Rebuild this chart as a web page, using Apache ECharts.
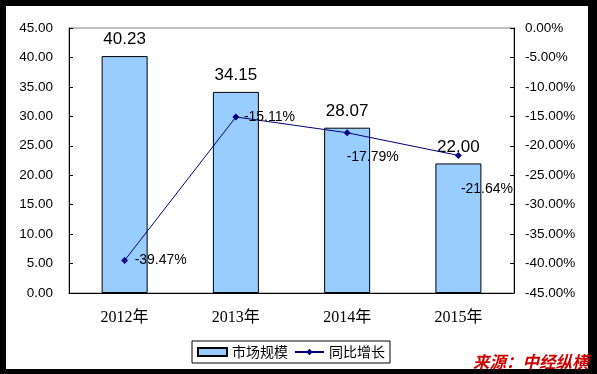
<!DOCTYPE html>
<html>
<head>
<meta charset="utf-8">
<script src="https://cdn.jsdelivr.net/npm/echarts@6/dist/echarts.min.js"></script>
<style>
html,body{margin:0;padding:0;background:#000;}
#chart{width:597px;height:374px;}
</style>
</head>
<body>
<div id="chart"></div>
<script>
const categories = ['2012年', '2013年', '2014年', '2015年'];
const marketSize = [40.23, 34.15, 28.07, 22.00];
const growthRate = [-39.47, -15.11, -17.79, -21.64];
const seriesNames = ['市场规模', '同比增长'];
const sourceText = '来源：中经纵横';

const growthLabelOffsets = [[1.5, 0], [-0.5, 0], [-9, 24], [-6, 34]];

const chart = echarts.init(document.getElementById('chart'), null, {renderer: 'canvas'});
const sans = "'Liberation Sans', Arial, 'Noto Sans CJK SC', sans-serif";
const serif = "'Liberation Serif', 'Noto Sans CJK SC', serif";

chart.setOption({
  backgroundColor: '#000',
  animation: false,
  graphic: [
    {type: 'rect', z: -100, shape: {x: 6, y: 6, width: 582, height: 363}, style: {fill: '#fff'}},
    {type: 'text', z: 100, left: 473, top: 353,
     style: {text: sourceText, fill: '#CC0000', font: 'italic bold 16.5px "Noto Sans CJK SC", sans-serif'}}
  ],
  grid: {left: 69, right: 83, top: 28, bottom: 81, show: true, borderColor: '#808080', borderWidth: 1, backgroundColor: 'transparent', outerBoundsMode: 'none'},
  legend: {
    left: 192, top: 341,
    padding: [4, 5, 4, 5],
    itemGap: 6,
    itemWidth: 29, itemHeight: 8,
    borderColor: '#000', borderWidth: 1, borderRadius: 0,
    backgroundColor: '#fff',
    textStyle: {fontSize: 14, color: '#000', fontFamily: "'Noto Sans CJK SC', sans-serif"},
    data: [{name: seriesNames[0], icon: 'rect'}, {name: seriesNames[1]}]
  },
  xAxis: {
    type: 'category',
    data: categories,
    boundaryGap: true,
    axisLine: {lineStyle: {color: '#000', width: 1}},
    axisTick: {inside: true, length: 4, lineStyle: {color: '#000'}},
    axisLabel: {fontSize: 16, color: '#000', fontFamily: serif, margin: 17}
  },
  yAxis: [
    {
      type: 'value', min: 0, max: 45, interval: 5,
      axisLine: {show: true, lineStyle: {color: '#000', width: 1}},
      axisTick: {show: true, inside: true, length: 4, lineStyle: {color: '#000'}},
      splitLine: {show: false},
      axisLabel: {fontSize: 13.5, color: '#000', fontFamily: sans, margin: 16, formatter: v => v.toFixed(2)}
    },
    {
      type: 'value', min: -45, max: 0, interval: 5, position: 'right',
      axisLine: {show: true, lineStyle: {color: '#000', width: 1}},
      axisTick: {show: true, inside: true, length: 4, lineStyle: {color: '#000'}},
      splitLine: {show: false},
      axisLabel: {fontSize: 13.5, color: '#000', fontFamily: sans, margin: 11, formatter: v => v.toFixed(2) + '%'}
    }
  ],
  series: [
    {
      name: seriesNames[0],
      type: 'bar',
      yAxisIndex: 0,
      barWidth: 46,
      data: marketSize,
      itemStyle: {color: '#99CCFF', borderColor: '#000', borderWidth: 1},
      label: {show: true, position: 'top', distance: 8, fontSize: 17, color: '#000', fontFamily: sans, formatter: p => p.value.toFixed(2)},
      z: 2
    },
    {
      name: seriesNames[1],
      type: 'line',
      yAxisIndex: 1,
      data: growthRate.map((v, i) => ({
        value: v,
        label: {offset: growthLabelOffsets[i]}
      })),
      symbol: 'diamond',
      symbolSize: 7,
      itemStyle: {color: '#000080'},
      lineStyle: {color: '#000080', width: 1},
      label: {show: true, position: 'right', distance: 5, fontSize: 14, color: '#000', fontFamily: sans, formatter: p => p.value.toFixed(2) + '%'},
      z: 3
    }
  ]
});
</script>
</body>
</html>
